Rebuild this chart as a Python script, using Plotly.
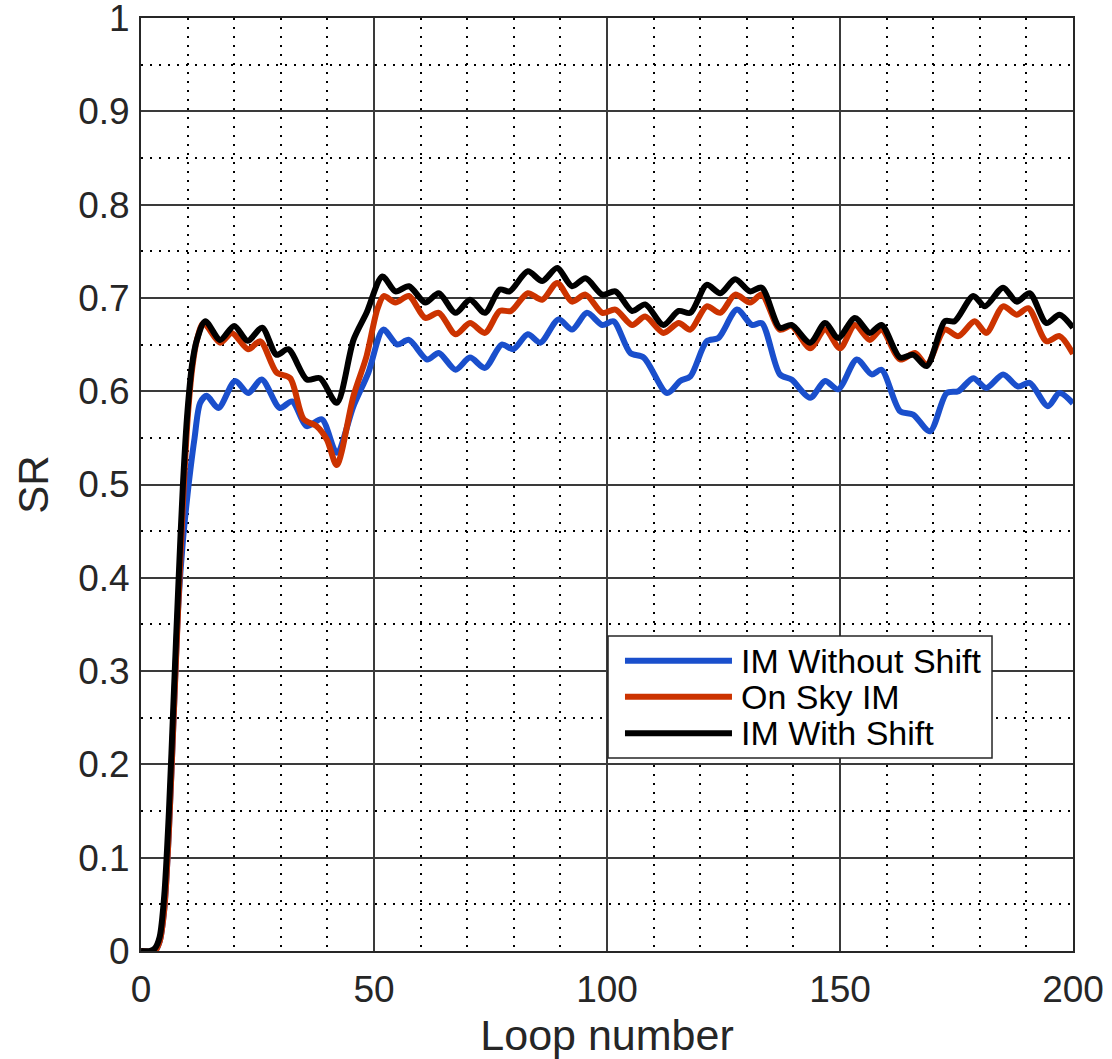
import plotly.graph_objects as go

# ---- data ----
blue_x = [0, 3, 4, 5, 6, 7, 8, 9, 10, 10.6, 11.5, 12.7, 14.1, 16.6, 20.2, 23, 25.9, 29.8, 32.4, 35.6, 38.8,
          42, 45.6, 48.8, 52, 55, 57.5, 61.4, 63.9, 67.5, 70.6, 73.8, 77.4, 79.9, 83, 85.7, 89.6, 92.5, 95.7,
          99, 101.4, 105, 107.9, 112.9, 115.7, 117.9, 121.4, 123.9, 127.9, 131.1, 133.2, 137.1, 139.6, 143.6,
          146.8, 149.6, 153.6, 156.8, 158.9, 162.9, 165.7, 169.3, 172.9, 175.4, 178.6, 181.4, 185, 188.2,
          190.7, 194.6, 197.1, 200]
blue_y = [0, 0, 0.01, 0.045, 0.13, 0.25, 0.37, 0.44, 0.49, 0.516, 0.55, 0.5875, 0.595, 0.582, 0.611, 0.598,
          0.6125, 0.582, 0.589, 0.5625, 0.57, 0.534, 0.584, 0.62, 0.666, 0.65, 0.655, 0.634, 0.641, 0.623,
          0.636, 0.625, 0.65, 0.645, 0.661, 0.652, 0.677, 0.666, 0.684, 0.671, 0.675, 0.641, 0.636, 0.598,
          0.611, 0.616, 0.6535, 0.657, 0.6875, 0.671, 0.673, 0.618, 0.6125, 0.593, 0.611, 0.602, 0.634,
          0.618, 0.623, 0.5785, 0.575, 0.557, 0.598, 0.6, 0.614, 0.6035, 0.618, 0.605, 0.609, 0.584, 0.598,
          0.587]

orange_x = [0, 3, 4, 5, 6, 7, 8, 9, 10, 11, 12, 13.4, 17, 19.5, 23, 25.6, 29.1, 32, 34.9, 37.7, 39.9, 42,
            45.6, 48.4, 50.7, 52.1, 54.6, 57.5, 61, 63.9, 67.5, 70.6, 73.8, 77, 79.4, 83, 86.1, 89.3, 92.5,
            95.4, 99, 101.8, 105.4, 108.2, 112.1, 115.4, 117.9, 121.4, 124.3, 127.5, 130.7, 133.2, 137.1,
            139.6, 143.6, 146.8, 150, 153.2, 156.4, 158.9, 162.9, 166.1, 168.6, 172.5, 175.4, 178.9, 181.4,
            185, 187.9, 190.4, 194.3, 197.1, 200]
orange_y = [0, 0, 0.01, 0.045, 0.13, 0.25, 0.37, 0.48, 0.57, 0.625, 0.655, 0.673, 0.652, 0.6625, 0.645,
            0.6535, 0.62, 0.614, 0.57, 0.5625, 0.548, 0.521, 0.595, 0.6375, 0.6875, 0.702, 0.695, 0.702,
            0.6785, 0.684, 0.661, 0.673, 0.6625, 0.686, 0.686, 0.705, 0.698, 0.716, 0.696, 0.7035, 0.684,
            0.6875, 0.671, 0.68, 0.6625, 0.673, 0.666, 0.691, 0.684, 0.7035, 0.695, 0.7035, 0.666, 0.67,
            0.646, 0.666, 0.646, 0.671, 0.655, 0.666, 0.634, 0.641, 0.6285, 0.666, 0.659, 0.675, 0.6625,
            0.691, 0.682, 0.689, 0.6535, 0.659, 0.64]

black_x = [0, 2, 3, 4, 5, 6, 7, 8, 9, 10, 11, 12, 13.8, 17, 20, 22.9, 26, 29.1, 31.6, 35.6, 38.4, 42, 45.6,
           48.4, 51.8, 54.6, 57.5, 61, 63.9, 67.5, 70.6, 73.8, 77, 79.1, 83, 86.1, 89.3, 92.5, 95.4, 99,
           101.8, 105.4, 108.2, 112.1, 115.4, 117.9, 121.4, 124.3, 127.5, 130.7, 133.2, 137.1, 139.6, 143.6,
           146.8, 149.6, 153.2, 156.4, 158.9, 162.9, 165.7, 168.6, 172.5, 174.6, 178.6, 181.1, 185, 187.9,
           190.7, 194.3, 197.1, 200]
black_y = [0, 0, 0.003, 0.015, 0.06, 0.15, 0.27, 0.39, 0.5, 0.58, 0.63, 0.655, 0.675, 0.655, 0.67, 0.654,
           0.668, 0.639, 0.645, 0.6125, 0.614, 0.5875, 0.655, 0.684, 0.723, 0.707, 0.7125, 0.695, 0.705,
           0.684, 0.698, 0.684, 0.709, 0.707, 0.7285, 0.718, 0.732, 0.7125, 0.721, 0.7035, 0.707, 0.686,
           0.693, 0.671, 0.686, 0.684, 0.714, 0.705, 0.72, 0.707, 0.711, 0.668, 0.671, 0.652, 0.673, 0.657,
           0.6785, 0.6625, 0.671, 0.636, 0.639, 0.627, 0.675, 0.675, 0.702, 0.691, 0.711, 0.696, 0.705,
           0.673, 0.682, 0.668]

series_names = ["IM Without Shift", "On Sky IM", "IM With Shift"]
series_colors = ["#1a4fcc", "#cc3300", "#000000"]

x_ticks = [0, 50, 100, 150, 200]
y_ticks = [0, 0.1, 0.2, 0.3, 0.4, 0.5, 0.6, 0.7, 0.8, 0.9, 1]
y_ticklabels = ["0", "0.1", "0.2", "0.3", "0.4", "0.5", "0.6", "0.7", "0.8", "0.9", "1"]

FONT = "Liberation Sans, Arial, sans-serif"
LINE_W = 6

fig = go.Figure()
for xs, ys, name, col in zip([blue_x, orange_x, black_x], [blue_y, orange_y, black_y],
                             series_names, series_colors):
    fig.add_trace(go.Scatter(x=xs, y=ys, mode="lines", name=name, showlegend=False,
                             line=dict(color=col, width=LINE_W, shape="spline", smoothing=0.8)))

axis_common = dict(
    showline=True, mirror=True, linecolor="#262626", linewidth=2,
    showgrid=True, gridcolor="#3a3a3a", gridwidth=1.5,
    ticks="", zeroline=False, ticklabeloverflow="allow", automargin=False,
    tickfont=dict(family=FONT, size=37, color="#262626"),
)

fig.update_xaxes(range=[0, 200], tickvals=x_ticks, ticklabelstandoff=5,
                 minor=dict(dtick=10, showgrid=True, griddash="2px,7px", gridcolor="#000000", gridwidth=1.5),
                 title=dict(text="Loop number", font=dict(family=FONT, size=43, color="#262626"), standoff=16),
                 **axis_common)
fig.update_yaxes(range=[0, 1], tickvals=y_ticks, ticktext=y_ticklabels, ticklabelstandoff=2,
                 minor=dict(dtick=0.05, showgrid=True, griddash="2px,7px", gridcolor="#000000", gridwidth=1.5),
                 title=dict(text="SR", font=dict(family=FONT, size=42, color="#262626"), standoff=16),
                 **axis_common)

# ---- custom legend box (paper coordinates) ----
leg_x0, leg_x1, leg_y0, leg_y1 = 0.5011, 0.9131, 0.2069, 0.3376
leg_rows = [0.3111, 0.2726, 0.2333]
fig.add_shape(type="rect", xref="paper", yref="paper", x0=leg_x0, x1=leg_x1, y0=leg_y0, y1=leg_y1,
              line=dict(color="#262626", width=1.5), fillcolor="white", layer="above")
for ry, name, col in zip(leg_rows, series_names, series_colors):
    fig.add_shape(type="line", xref="paper", yref="paper", x0=0.5193, x1=0.6341, y0=ry, y1=ry,
                  line=dict(color=col, width=LINE_W), layer="above")
    fig.add_annotation(xref="paper", yref="paper", x=0.6416, y=ry, text=name, showarrow=False,
                       xanchor="left", yanchor="middle",
                       font=dict(family=FONT, size=34, color="#000000"))

fig.update_layout(
    width=1112, height=1059,
    margin=dict(l=141, r=39, t=18, b=108, autoexpand=False),
    paper_bgcolor="white", plot_bgcolor="white",
    font=dict(family=FONT, color="#000000"),
    showlegend=False,
)

fig.write_html("out.html")
